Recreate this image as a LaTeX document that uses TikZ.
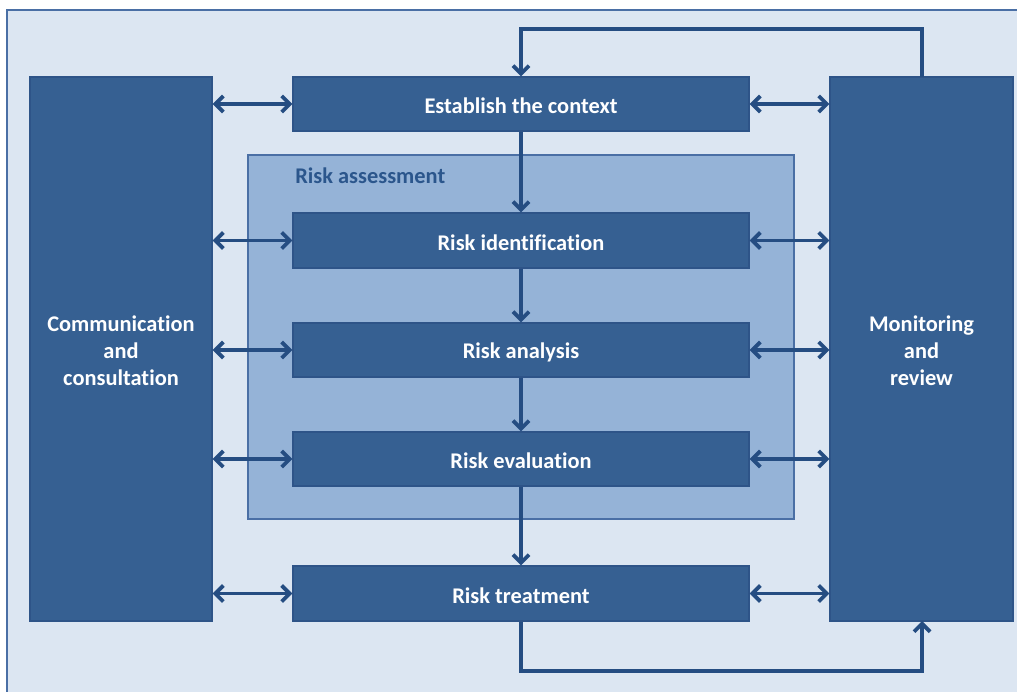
\documentclass[tikz,border=0pt]{standalone}
\usepackage{fontspec}
\setmainfont{Carlito}[Ligatures=NoCommon]
\usetikzlibrary{fit,arrows.meta}
\definecolor{bgc}{HTML}{DCE6F2}
\definecolor{framec}{HTML}{4A6FA5}
\definecolor{boxc}{HTML}{366092}
\definecolor{boxb}{HTML}{2E5488}
\definecolor{assc}{HTML}{95B3D7}
\definecolor{arrc}{HTML}{254D82}
\definecolor{asstext}{HTML}{2B568C}
\tikzset{
  box/.style={fill=boxc, draw=boxb, line width=0.8pt, inner sep=0pt},
  lbl/.style={text=white, inner sep=0pt, align=center, yshift=-1.5pt, font=\bfseries\fontsize{16.8}{20.25}\selectfont},
  conn/.style={draw=arrc, line width=2.9pt},
  tip/.style={},
  biarrow/.style={conn, {Straight Barb[length=6pt,width=12pt]}-{Straight Barb[length=6pt,width=12pt]}},
  onearrow/.style={conn, -{Straight Barb[length=6pt,width=12pt]}},
}
\begin{document}
\begin{tikzpicture}[x=0.75pt,y=-0.75pt]
\useasboundingbox (0,0) rectangle (1017,692);
\fill[white] (0,0) rectangle (1017,692);
\draw[fill=bgc, draw=framec, line width=1pt] (7,10) rectangle (1040,720);
\node[fill=assc, draw=framec, line width=0.8pt, inner sep=0pt, fit={(248,155) (794,519)}] (RA) {};
\node[anchor=west, inner sep=0pt, text=asstext, font=\bfseries\fontsize{16.8}{20}\selectfont] (RAl) at (295,176) {Risk assessment};
\node[box, fit={(30,77) (212,621)}] (CC) {};
\node[box, fit={(830,77) (1013,621)}] (MR) {};
\node[lbl] at (CC.center) (CCt) {Communication\\and\\consultation};
\node[lbl] at (MR.center) (MRt) {Monitoring\\and\\review};
\node[box, fit={(293,77) (749,131)}] (E) {};
\node[lbl] at (E.center) (Et) {Establish the context};
\node[box, fit={(293,213) (749,268)}] (I) {};
\node[lbl] at (I.center) (It) {Risk identification};
\node[box, fit={(293,323) (749,377)}] (A) {};
\node[lbl] at (A.center) (At) {Risk analysis};
\node[box, fit={(293,432) (749,486)}] (V) {};
\node[lbl] at (V.center) (Vt) {Risk evaluation};
\node[box, fit={(293,566) (749,621)}] (T) {};
\node[lbl] at (T.center) (Tt) {Risk treatment};
% vertical flow
\draw[onearrow] (E.south) -- (I.north);
\draw[onearrow] (I.south) -- (A.north);
\draw[onearrow] (A.south) -- (V.north);
\draw[onearrow] (V.south) -- (T.north);
% side arrows
\foreach \n in {E,I,A,V,T}{
  \draw[biarrow] (CC.east |- \n.west) -- (\n.west);
  \draw[biarrow] (\n.east) -- (MR.west |- \n.east);
}
% loops
\coordinate (mt) at (922,77);
\coordinate (mb) at (922,621);
\coordinate (topy) at (0,29);
\coordinate (boty) at (0,671);
\draw[onearrow, line join=miter] (mt) -- (mt |- topy) -- (E.north |- topy) -- (E.north);
\draw[onearrow, line join=miter] (T.south) -- (T.south |- boty) -- (mb |- boty) -- (mb);
\end{tikzpicture}
\end{document}
